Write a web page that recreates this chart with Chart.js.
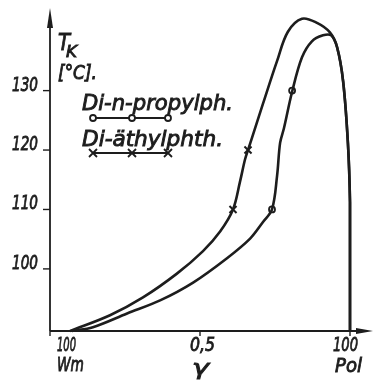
<!DOCTYPE html>
<html>
<head>
<meta charset="utf-8">
<script src="https://cdn.jsdelivr.net/npm/chart.js@4.4.1/dist/chart.umd.min.js"></script>
<style>
  body{margin:0;background:#fff;}
  canvas{display:block;}
</style>
</head>
<body>
<canvas id="chart" width="374" height="382"></canvas>
<script>
// ===== DATA =====
// x = mole fraction (0 = 100 Wm, 1 = 100 Pol), T = T_K in °C
const aethylX = [0.067, 0.2, 0.31, 0.423, 0.51, 0.567, 0.61, 0.633, 0.65, 0.66, 0.673, 0.71, 0.757, 0.793, 0.84, 0.89, 0.933, 0.957, 0.977, 0.993, 1.0, 1.0, 1.0];
const aethylT = [89.55, 92.2, 95.2, 99.2, 103.0, 106.3, 110, 114.6, 118.4, 120, 122.0, 127.8, 135, 139.9, 142.1, 141.4, 139.8, 137.3, 131.6, 121.2, 111.2, 100.5, 89.55];

const propylX = [0.073, 0.143, 0.257, 0.367, 0.477, 0.59, 0.667, 0.71, 0.74, 0.757, 0.767, 0.78, 0.807, 0.84, 0.873, 0.91, 0.937, 0.957, 0.977, 0.993, 1.0, 1.0, 1.0];
const propylT = [89.55, 90.2, 92.5, 94.7, 97.7, 101.8, 105.1, 107.9, 110, 115.7, 121.2, 123.7, 129.8, 135.6, 138.3, 139.3, 139.3, 137.3, 131.6, 121.2, 111.2, 100.5, 89.55];

// measured points (markers)
const aethylMarkX = [0.61, 0.66];
const aethylMarkT = [110, 120];
const propylMarkX = [0.74, 0.807];
const propylMarkT = [110, 130];

const yTicks = [100, 110, 120, 130];
const xTicks = [0, 0.5, 1];
const xTickLabels = ["100", "0,5", "100"];
const xSubLabels = ["Wm", "γ", "Pol"];

const seriesNames = ["Di-n-propylph.", "Di-äthylphth."];

const INK = "#1d1d1d";

function pts(xs, ys){
    return xs.map((x,i)=>({x:x, y:ys[i]}));
}

// italic text squeezed to a given width (the scan uses a narrow hand lettering)
function txt(ctx, s, x, y, size, w){
    ctx.font = `italic ${size}px "DejaVu Sans"`;
    const m = ctx.measureText(s).width;
    ctx.save();
    ctx.translate(x, y);
    ctx.scale(w / m, 1);
    ctx.lineWidth = 0.9;
    ctx.strokeStyle = INK;
    ctx.fillText(s, 0, 0);
    ctx.strokeText(s, 0, 0);
    ctx.restore();
}

const axesPlugin = {
    id: "axesPlugin",
    beforeDatasetsDraw(chart){
        const ctx = chart.ctx;
        const xs = chart.scales.x, ys = chart.scales.y;
        const x0 = xs.getPixelForValue(0);
        const y0 = ys.bottom;
        ctx.save();
        ctx.strokeStyle = INK;
        ctx.fillStyle = INK;
        ctx.lineWidth = 1.8;
        // y axis + arrow
        ctx.beginPath();
        ctx.moveTo(x0, y0);
        ctx.lineTo(x0, 26);
        ctx.stroke();
        ctx.beginPath();
        ctx.moveTo(x0, 8);
        ctx.lineTo(x0 - 3, 28);
        ctx.lineTo(x0 + 3, 28);
        ctx.closePath();
        ctx.fill();
        // x axis + arrow
        ctx.beginPath();
        ctx.moveTo(x0, y0);
        ctx.lineTo(360, y0);
        ctx.stroke();
        ctx.beginPath();
        ctx.moveTo(373, y0);
        ctx.lineTo(356, y0 - 3);
        ctx.lineTo(356, y0 + 3);
        ctx.closePath();
        ctx.fill();
        // y ticks
        ctx.lineWidth = 1.4;
        yTicks.forEach(v=>{
            const py = ys.getPixelForValue(v);
            ctx.beginPath();
            ctx.moveTo(x0 - 7, py);
            ctx.lineTo(x0, py);
            ctx.stroke();
        });
        // x ticks
        xTicks.forEach(v=>{
            const px = xs.getPixelForValue(v);
            ctx.beginPath();
            ctx.moveTo(px, y0);
            ctx.lineTo(px, y0 + 5);
            ctx.stroke();
        });
        ctx.restore();
    },
    afterDraw(chart){
        const ctx = chart.ctx;
        const xs = chart.scales.x, ys = chart.scales.y;
        ctx.save();
        ctx.fillStyle = INK;
        ctx.textBaseline = "alphabetic";

        // y tick labels, sitting on the tick
        yTicks.forEach(v=>{
            const py = ys.getPixelForValue(v);
            txt(ctx, String(v), 12, py, 20, 26);
        });

        // x tick labels
        const xLabW = [19, 25, 25];
        const xLabOff = [7, -10, -17];
        xTicks.forEach((v,i)=>{
            const px = xs.getPixelForValue(v);
            txt(ctx, xTickLabels[i], px + xLabOff[i], 351, 20, xLabW[i]);
        });
        txt(ctx, xSubLabels[0], 57, 371, 20, 27);
        txt(ctx, xSubLabels[1], 192, 375, 22, 17);
        txt(ctx, xSubLabels[2], 335, 372, 20, 27);

        // axis title T_K [°C].
        txt(ctx, "T", 58, 50, 23, 12);
        txt(ctx, "K", 66, 57, 16, 11);
        txt(ctx, "[°C].", 58, 79, 19, 39);

        // legend
        txt(ctx, seriesNames[0], 82, 110, 21, 151);
        txt(ctx, seriesNames[1], 82, 146, 21, 141);

        ctx.fillStyle = INK;
        ctx.strokeStyle = INK;
        ctx.lineWidth = 1.8;
        const lx = [93, 132, 168];
        ctx.beginPath();
        ctx.moveTo(lx[0], 118); ctx.lineTo(lx[2], 118);
        ctx.moveTo(lx[0], 153); ctx.lineTo(lx[2], 153);
        ctx.stroke();
        lx.forEach(x=>{
            ctx.beginPath();
            ctx.arc(x, 118, 3, 0, Math.PI*2);
            ctx.fillStyle = "#fff";
            ctx.fill();
            ctx.stroke();
            ctx.beginPath();
            ctx.moveTo(x-4, 149); ctx.lineTo(x+4, 157);
            ctx.moveTo(x+4, 149); ctx.lineTo(x-4, 157);
            ctx.stroke();
        });
        ctx.restore();
    }
};

const chart = new Chart(document.getElementById("chart"), {
    type: "scatter",
    data: {
        datasets: [
            {
                data: pts(aethylX, aethylT),
                showLine: true, tension: 0.35,
                borderColor: INK, borderWidth: 2.6,
                pointRadius: 0, clip: false
            },
            {
                data: pts(propylX, propylT),
                showLine: true, tension: 0.35,
                borderColor: INK, borderWidth: 2.6,
                pointRadius: 0, clip: false
            },
            {
                data: pts(aethylMarkX, aethylMarkT),
                showLine: false, pointStyle: "crossRot",
                pointRadius: 5, borderColor: INK, borderWidth: 2,
                clip: false
            },
            {
                data: pts(propylMarkX, propylMarkT),
                showLine: false, pointStyle: "circle",
                pointRadius: 3, borderColor: INK, borderWidth: 1.8,
                backgroundColor: "#fff", clip: false
            }
        ]
    },
    options: {
        responsive: false,
        animation: false,
        devicePixelRatio: 1,
        layout: { padding: { left: 50, right: 24, top: 2, bottom: 51 } },
        scales: {
            x: { type: "linear", min: 0, max: 1, display: false },
            y: { type: "linear", min: 89.55, max: 144.07, display: false }
        },
        plugins: { legend: { display: false }, tooltip: { enabled: false } }
    },
    plugins: [axesPlugin]
});
</script>
</body>
</html>
